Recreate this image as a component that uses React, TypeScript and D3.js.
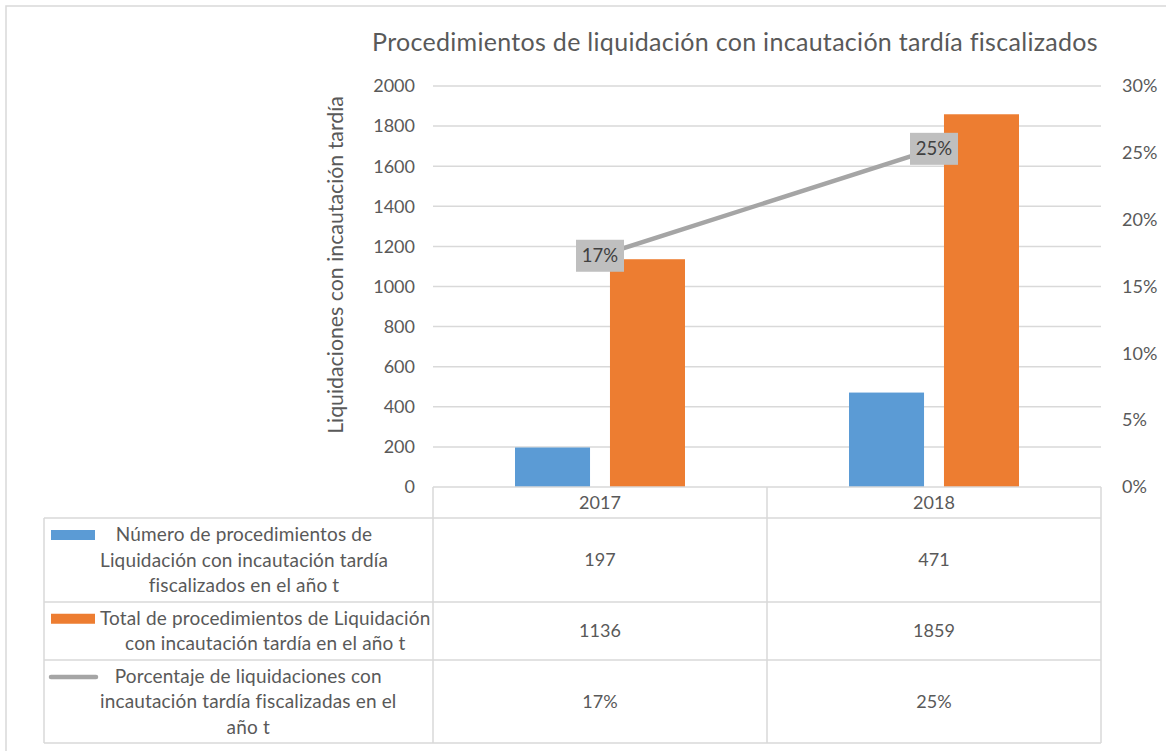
import React, { useRef, useEffect } from 'react';
import * as d3 from 'd3';

const years = ['2017', '2018'];
const fiscalizados = [197, 471];
const totales = [1136, 1859];
const porcentajes = [0.173, 0.253];
const porcentajeLabels = ['17%', '25%'];
const leftTicks = [0, 200, 400, 600, 800, 1000, 1200, 1400, 1600, 1800, 2000];
const rightTicks = [0, 0.05, 0.1, 0.15, 0.2, 0.25, 0.3];

const title = 'Procedimientos de liquidación con incautación tardía fiscalizados';
const yTitle = 'Liquidaciones con incautación tardía';

const seriesNames = [
  ['Número de procedimientos de', 'Liquidación con incautación tardía', 'fiscalizados en el año t'],
  ['Total de procedimientos de Liquidación', 'con incautación tardía en el año t'],
  ['Porcentaje de liquidaciones con', 'incautación tardía fiscalizadas en el', 'año t'],
];

const BLUE = '#5B9BD5';
const ORANGE = '#ED7D31';
const GRAY = '#A5A5A5';
const GRID = '#D9D9D9';
const TEXT = '#595959';
const FONT = 'Lato, "Open Sans", sans-serif';

function ComboChart() {
  const svgRef = useRef<SVGSVGElement>(null);

  useEffect(() => {
    if (!svgRef.current) return;
    const width = 1166;
    const height = 751;
    const plot = { left: 433, right: 1101, top: 86, bottom: 487 };
    const tableLeft = 44;
    const rowEdges = [487, 518, 602, 660, 743];

    const svg = d3.select(svgRef.current);
    svg.selectAll('*').remove();
    svg.attr('width', width).attr('height', height).style('font-family', FONT);

    // chart frame
    svg.append('rect')
      .attr('x', 6).attr('y', 6).attr('width', 1300).attr('height', 900)
      .attr('fill', '#fff').attr('stroke', GRID).attr('stroke-width', 1.5);

    const x = d3.scaleBand().domain(years).range([plot.left, plot.right]).padding(0);
    const xSub = d3.scaleBand().domain(['a', 'b']).range([0, 170]).paddingInner(0.21);
    const yL = d3.scaleLinear().domain([0, 2000]).range([plot.bottom, plot.top]);
    const yR = d3.scaleLinear().domain([0, 0.3]).range([plot.bottom, plot.top]);
    const cx = (y: string) => (x(y) as number) + x.bandwidth() / 2;

    // gridlines
    svg.append('g').selectAll('line')
      .data(leftTicks.filter(d => d > 0))
      .enter().append('line')
      .attr('x1', plot.left).attr('x2', plot.right)
      .attr('y1', d => yL(d)).attr('y2', d => yL(d))
      .attr('stroke', GRID).attr('stroke-width', 1.5);

    // left ticks
    svg.append('g').selectAll('text')
      .data(leftTicks)
      .enter().append('text')
      .attr('x', 415).attr('y', d => yL(d))
      .attr('dy', '0.35em').attr('text-anchor', 'end')
      .attr('fill', TEXT).attr('font-size', 18)
      .text(d => d);

    // right ticks
    svg.append('g').selectAll('text')
      .data(rightTicks)
      .enter().append('text')
      .attr('x', 1122).attr('y', d => yR(d))
      .attr('dy', '0.35em')
      .attr('fill', TEXT).attr('font-size', 18)
      .text(d => d3.format('.0%')(d));

    // title
    svg.append('text')
      .attr('x', 735).attr('y', 51).attr('text-anchor', 'middle')
      .attr('fill', TEXT).attr('font-size', 25).attr('letter-spacing', 0.3)
      .text(title);

    svg.append('text')
      .attr('transform', 'translate(343,265) rotate(-90)')
      .attr('text-anchor', 'middle')
      .attr('fill', TEXT).attr('font-size', 21.3)
      .text(yTitle);

    // bars
    const barData = [
      { key: 'a', values: fiscalizados, color: BLUE },
      { key: 'b', values: totales, color: ORANGE },
    ];
    barData.forEach(s => {
      svg.append('g').selectAll('rect')
        .data(years)
        .enter().append('rect')
        .attr('x', (d) => cx(d) - 85 + (xSub(s.key) as number))
        .attr('width', xSub.bandwidth())
        .attr('y', (d, i) => yL(s.values[i]))
        .attr('height', (d, i) => plot.bottom - yL(s.values[i]))
        .attr('fill', s.color);
    });

    // line
    const line = d3.line<number>()
      .x((d, i) => cx(years[i]))
      .y(d => yR(d));
    svg.append('path')
      .attr('d', line(porcentajes))
      .attr('fill', 'none').attr('stroke', GRAY)
      .attr('stroke-width', 4.5).attr('stroke-linecap', 'round');

    // data labels
    const lbl = svg.append('g').selectAll('g')
      .data(porcentajes)
      .enter().append('g')
      .attr('transform', (d, i) => `translate(${cx(years[i])},${yR(d)})`);
    lbl.append('rect')
      .attr('x', -24).attr('y', -16).attr('width', 48).attr('height', 32)
      .attr('fill', '#BFBFBF');
    lbl.append('text')
      .attr('text-anchor', 'middle').attr('dy', '0.35em')
      .attr('fill', '#404040').attr('font-size', 18.5)
      .text((d, i) => porcentajeLabels[i]);

    // data table grid
    const grid = svg.append('g').attr('stroke', GRID).attr('stroke-width', 1.5);
    grid.append('line')
      .attr('x1', plot.left).attr('x2', plot.right)
      .attr('y1', rowEdges[0]).attr('y2', rowEdges[0]);
    rowEdges.slice(1).forEach(y => {
      grid.append('line')
        .attr('x1', tableLeft).attr('x2', plot.right)
        .attr('y1', y).attr('y2', y);
    });
    grid.append('line')
      .attr('x1', tableLeft).attr('x2', tableLeft)
      .attr('y1', rowEdges[1]).attr('y2', rowEdges[4]);
    [plot.left, plot.left + x.bandwidth(), plot.right].forEach(xv => {
      grid.append('line')
        .attr('x1', xv).attr('x2', xv)
        .attr('y1', rowEdges[0]).attr('y2', rowEdges[4]);
    });

    // category labels
    svg.append('g').selectAll('text')
      .data(years)
      .enter().append('text')
      .attr('x', d => cx(d)).attr('y', (rowEdges[0] + rowEdges[1]) / 2)
      .attr('dy', '0.35em').attr('text-anchor', 'middle')
      .attr('fill', TEXT).attr('font-size', 18)
      .text(d => d);

    // table values
    const tableValues = [
      fiscalizados.map(String),
      totales.map(String),
      porcentajeLabels,
    ];
    tableValues.forEach((row, r) => {
      const yc = (rowEdges[r + 1] + rowEdges[r + 2]) / 2;
      svg.append('g').selectAll('text')
        .data(row)
        .enter().append('text')
        .attr('x', (d, i) => cx(years[i])).attr('y', yc)
        .attr('dy', '0.35em').attr('text-anchor', 'middle')
        .attr('fill', TEXT).attr('font-size', 18)
        .text(d => d);
    });

    // legend keys + names
    const lineH = 25.5;
    seriesNames.forEach((lines, r) => {
      const yc = (rowEdges[r + 1] + rowEdges[r + 2]) / 2;
      const y0 = yc - ((lines.length - 1) * lineH) / 2;
      if (r < 2) {
        svg.append('rect')
          .attr('x', 51).attr('y', y0 - 4.5).attr('width', 44).attr('height', 10)
          .attr('fill', r === 0 ? BLUE : ORANGE);
      } else {
        svg.append('line')
          .attr('x1', 51).attr('x2', 96).attr('y1', y0 + 1).attr('y2', y0 + 1)
          .attr('stroke', GRAY).attr('stroke-width', 4.5).attr('stroke-linecap', 'round');
      }
      const g = svg.append('g');
      const texts = g.selectAll('text')
        .data(lines)
        .enter().append('text')
        .attr('y', (d, i) => y0 + i * lineH)
        .attr('dy', '0.35em').attr('text-anchor', 'middle')
        .attr('fill', TEXT).attr('font-size', 19).attr('letter-spacing', 0.15)
        .text(d => d);
      let maxW = 0;
      texts.each(function () {
        maxW = Math.max(maxW, (this as SVGTextElement).getComputedTextLength());
      });
      texts.attr('x', 100 + maxW / 2);
    });
  }, []);

  return <svg ref={svgRef} style={{ display: 'block', position: 'absolute', left: 0, top: 0 }}></svg>;
}

export default function App() {
  return <ComboChart />;
}
